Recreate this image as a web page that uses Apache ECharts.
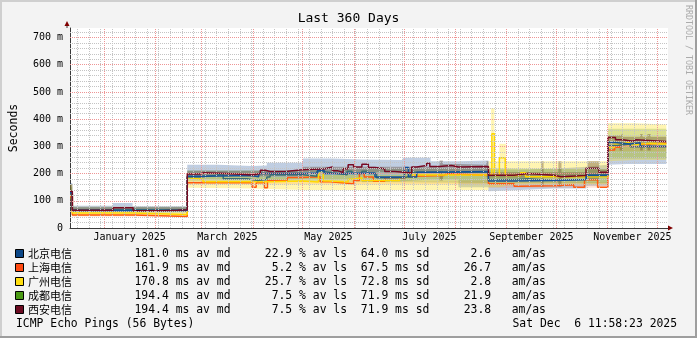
<!DOCTYPE html>
<html>
<head>
<meta charset="utf-8">
<script src="https://cdn.jsdelivr.net/npm/echarts@6/dist/echarts.min.js"></script>
<style>
  html, body { margin: 0; padding: 0; background: #f3f3f3; }
  #chart { width: 697px; height: 338px; }
</style>
</head>
<body>
<div id="chart"></div>
<script>
// Time range: 360 days ending Sat Dec 6 2025; x values below are days since range start
const rangeStart = Date.UTC(2024, 11, 11, 12, 0, 0);
const DAY = 864e5;

const hosts = ['北京电信', '上海电信', '广州电信', '成都电信', '西安电信'];
const swatchColors = ['#0b4787', '#ff4a12', '#ffde10', '#4a9a14', '#6b0a20'];
const lineColors = ['#14529a', '#ff5a10', '#ffd800', '#3c6f74', '#780a24'];
const bandColors = [
  'rgba(30,80,150,0.28)',
  'rgba(255,100,20,0.18)',
  'rgba(255,222,0,0.30)',
  'rgba(74,140,20,0.20)',
  'rgba(90,60,40,0.36)'
];

// Summary statistics shown in the legend
const avgMedian = ['181.0', '161.9', '170.8', '194.4', '194.4'];
const avgLoss = ['22.9', '5.2', '25.7', '7.5', '7.5'];
const avgSd = ['64.0', '67.5', '72.8', '71.9', '71.9'];
const amAs = ['2.6', '26.7', '2.8', '21.9', '23.8'];

// Median RTT (ms) as [day, value] change points
const beijingMedian = [[0,130],[1.4,64],[70.8,190],[80.3,193],[109,188],[113.9,200],[140.6,202],[149.5,212],[153.4,200],[164.3,202],[184.1,187],[201.9,222],[204.3,187],[209.3,205],[216.7,208],[252.6,173],[268.1,175],[291.8,178],[311.6,193],[324.7,315],[327.4,309],[338.2,313],[344.2,300],[360,300]];
const shanghaiMedian = [[0,115],[1.4,48],[38.1,42],[70.8,166],[109.9,150],[112.4,166],[117.4,148],[119.2,175],[131.2,186],[140.2,188],[151,170],[157.1,163],[171.2,175],[174.7,200],[177.6,187],[183.1,172],[190,185],[201.5,190],[206.8,193],[225.6,200],[227.6,193],[252.6,163],[268.1,153],[272,155],[292.2,159],[304.1,150],[310.6,177],[318.5,150],[324.7,287],[328.8,297],[331.8,307],[337.7,311],[360,311]];
const guangzhouMedian = [[0,120],[1.4,55],[38.1,50],[70.8,185],[72.4,178],[80.3,170],[120.8,173],[140.6,169],[150,200],[152.9,173],[155.9,169],[167.9,179],[170.7,185],[176.2,175],[198.9,187],[206.3,195],[254.7,346],[256.2,193],[259.2,258],[262.7,193],[272,203],[275,188],[324.7,297],[328.8,309],[331.8,315],[337.7,307],[341.2,311],[349.6,309],[360,309]];
const chengduMedian = [[0,125],[1.4,67],[70.8,187],[78.5,193],[87.7,200],[92.5,181],[107,175],[112.9,178],[118.8,187],[120.8,196],[140.6,190],[149,209],[152.4,202],[158.4,196],[167.3,209],[170.2,200],[176.2,209],[179.6,200],[185.1,185],[201.9,192],[205.8,205],[252.6,178],[268.1,181],[276.6,175],[292.2,178],[311.6,197],[324.7,303],[330.3,309],[338.2,299],[360,299]];
const xianMedian = [[0,135],[1.4,65],[26,74],[38.1,63],[56.1,65],[65.1,67],[70.8,198],[78.3,203],[80.8,200],[94.1,197],[106,195],[109.9,200],[114.9,212],[117.9,208],[120.8,209],[131.2,214],[140.6,218],[154,224],[158.4,210],[161.8,204],[164.9,218],[167.9,232],[171.2,224],[176.2,234],[180.1,222],[184.1,218],[190,208],[195.9,205],[201.5,202],[206.3,224],[209.3,230],[215.3,238],[217.2,226],[223.1,230],[230.3,224],[234.5,226],[252.6,194],[268.1,200],[276.6,194],[292.2,188],[296.4,193],[311.5,220],[319.3,205],[324.7,333],[329.3,324],[333.7,319],[339.7,324],[341.5,318],[360,318]];

// Spread of the pings (smoke) as [day, low ms, high ms]
const beijingBand = [[0,100,165],[1.4,58,82],[25.9,60,92],[37.8,57,80],[70.8,180,232],[89.2,178,228],[109.9,170,230],[118.8,175,240],[140.6,180,255],[158.4,178,252],[176.2,168,250],[200.9,172,258],[217.7,178,245],[234.5,150,248],[252.6,135,215],[272,140,218],[291.8,145,225],[311.6,155,232],[324.7,232,300],[336.3,235,305],[346.1,235,300],[360,235,300]];
const shanghaiBand = [[0,100,130],[1.4,42,52],[70.8,160,175],[252.6,148,168],[324.7,283,312],[360,298,316]];
const guangzhouBand = [[0,105,160],[1.4,44,60],[70.8,148,190],[109.9,145,185],[140.6,140,195],[200.9,140,205],[252.6,150,245],[254.2,150,440],[256.2,150,245],[259.2,150,310],[263.1,155,245],[272,160,245],[324.7,245,385],[341.2,250,380],[360,250,380]];
const chengduBand = [[0,110,150],[1.4,58,78],[70.8,172,212],[140.6,172,218],[200.9,168,220],[252.6,165,215],[324.7,255,365],[360,255,365]];
const xianBand = [[0,110,160],[1.4,60,76],[70.8,190,210],[140.6,205,225],[223.1,175,248],[225.1,210,235],[234.5,205,232],[251.3,190,245],[252.6,185,205],[284.4,152,245],[285.9,185,205],[294.8,152,245],[296.7,185,205],[312.5,175,245],[319.3,195,215],[324.7,310,340],[331.8,285,345],[333.7,310,335],[344.2,285,345],[345.7,310,335],[348.6,285,345],[350.5,310,335],[360,310,335]];

const medians = [beijingMedian, shanghaiMedian, guangzhouMedian, chengduMedian, xianMedian];
const bands = [beijingBand, shanghaiBand, guangzhouBand, chengduBand, xianBand];

const xTickLabels = ['January 2025', 'March 2025', 'May 2025', 'July 2025', 'September 2025', 'November 2025'];
const xTickMonths = [0, 2, 4, 6, 8, 10];

const t = d => rangeStart + d * DAY;
const Y_MAX = 735;

// Grid positions: monthly major lines, weekly (Monday) minor lines
const monthStarts = [];
for (let m = 0; m < 12; m++) monthStarts.push(Date.UTC(2025, m, 1));
const weekLines = [];
for (let ms = Date.UTC(2024, 11, 16); ms < t(361); ms += 7 * DAY) {
  if (new Date(ms).getUTCDate() !== 1) weekLines.push(ms);
}
const labelTimes = xTickMonths.map(m => (Date.UTC(2025, m, 1) + Date.UTC(2025, m + 1, 1)) / 2);

const yMinor = [];
for (let v = 20; v <= 720; v += 20) if (v % 100) yMinor.push(v);
const yMajor = [100, 200, 300, 400, 500, 600, 700];

const vLine = ms => [{ coord: [ms, 0] }, { coord: [ms, Y_MAX] }];

const series = [];
series.push({
  type: 'line', data: [[t(0), -50]], symbol: 'none', silent: true,
  lineStyle: { opacity: 0 }, z: 1,
  markLine: {
    silent: true, symbol: ['none', 'none'], animation: false,
    label: { show: false },
    lineStyle: { color: '#c4c4c4', type: [1, 1], width: 1 },
    data: [...yMinor.map(v => ({ yAxis: v })), ...weekLines.map(vLine)]
  }
});
series.push({
  type: 'line', data: [[t(0), -50]], symbol: 'none', silent: true,
  lineStyle: { opacity: 0 }, z: 1,
  markLine: {
    silent: true, symbol: ['none', 'none'], animation: false,
    label: { show: false },
    lineStyle: { color: '#ee9595', type: [1, 1], width: 1 },
    data: [...yMajor.map(v => ({ yAxis: v })), ...monthStarts.map(vLine)]
  }
});

// Smoke bands: invisible lower bound stacked with the band height
bands.forEach((band, i) => {
  const stack = 'band' + i;
  series.push({
    type: 'line', stack, step: 'end', symbol: 'none', silent: true, z: 2,
    lineStyle: { opacity: 0 },
    data: band.map(b => [t(b[0]), b[1]])
  });
  series.push({
    type: 'line', stack, step: 'end', symbol: 'none', silent: true, z: 2,
    lineStyle: { opacity: 0 },
    areaStyle: { color: bandColors[i], opacity: 1 },
    data: band.map(b => [t(b[0]), b[2] - b[1]])
  });
});

// Median lines, drawn with the darkest on top
[1, 2, 3, 0, 4].forEach(i => {
  series.push({
    type: 'line', name: hosts[i], step: 'end', symbol: 'none', silent: true, z: 3,
    lineStyle: { color: lineColors[i], width: 1.5 },
    data: medians[i].map(p => [t(p[0]), p[1]])
  });
});

// Legend block
const rowY = [254, 268, 282, 296, 310];
const mono = '"DejaVu Sans Mono", monospace';
const statFont = '11.4px ' + mono;
const graphics = [
  { type: 'rect', shape: { x: 0, y: 0, width: 697, height: 2 }, style: { fill: '#cfcfcf' }, z: 100 },
  { type: 'rect', shape: { x: 0, y: 0, width: 2, height: 338 }, style: { fill: '#cfcfcf' }, z: 100 },
  { type: 'rect', shape: { x: 0, y: 336, width: 697, height: 2 }, style: { fill: '#9e9e9e' }, z: 100 },
  { type: 'rect', shape: { x: 695, y: 0, width: 2, height: 338 }, style: { fill: '#9e9e9e' }, z: 100 },
  { type: 'text', x: 348.5, y: 19, style: { text: 'Last 360 Days', font: '13px ' + mono, fill: '#000', align: 'center', verticalAlign: 'middle' } },
  { type: 'text', x: 688, y: 5, rotation: -Math.PI / 2, style: { text: 'RRDTOOL / TOBI OETIKER', font: '8.3px ' + mono, fill: '#ababab', align: 'left', verticalAlign: 'middle' } },
  // axis extensions and arrow heads
  { type: 'line', shape: { x1: 67, y1: 28, x2: 67, y2: 23 }, style: { stroke: '#3a3a3a', lineWidth: 1 } },
  { type: 'polygon', shape: { points: [[64.5, 26], [69.5, 26], [67, 21]] }, style: { fill: '#7f0000' } },
  { type: 'line', shape: { x1: 668, y1: 228, x2: 670, y2: 228 }, style: { stroke: '#3a3a3a', lineWidth: 1 } },
  { type: 'polygon', shape: { points: [[668, 225.5], [668, 230.5], [673, 228]] }, style: { fill: '#7f0000' } },
  { type: 'text', x: 16, y: 324, style: { text: 'ICMP Echo Pings (56 Bytes)', font: statFont, fill: '#000', verticalAlign: 'middle' } },
  { type: 'text', x: 512.5, y: 324, style: { text: 'Sat Dec  6 11:58:23 2025', font: statFont, fill: '#000', verticalAlign: 'middle' } }
];
hosts.forEach((h, i) => {
  const y = rowY[i];
  graphics.push({ type: 'rect', shape: { x: 15.5, y: y - 4.5, width: 8, height: 8 }, style: { fill: swatchColors[i], stroke: '#000', lineWidth: 1 } });
  graphics.push({ type: 'text', x: 28, y, style: { text: h, font: '11px "Noto Sans CJK SC"', fill: '#000', verticalAlign: 'middle' } });
  const stats = avgMedian[i] + ' ms av md     ' + avgLoss[i].padStart(4) + ' % av ls  ' +
    avgSd[i] + ' ms sd' + amAs[i].padStart(9) + '   am/as';
  graphics.push({ type: 'text', x: 134.5, y, style: { text: stats, font: statFont, fill: '#000', verticalAlign: 'middle' } });
});

const chart = echarts.init(document.getElementById('chart'), null, { renderer: 'canvas' });
chart.setOption({
  animation: false,
  backgroundColor: '#f3f3f3',
  grid: { left: 67, right: 29, top: 28, bottom: 110, show: true, backgroundColor: '#ffffff', borderWidth: 0 },
  xAxis: [
    {
      // time axis carrying the data
      type: 'time', min: t(0), max: t(361),
      axisLine: { show: true, lineStyle: { color: '#3a3a3a', width: 1 } },
      axisTick: { show: false },
      splitLine: { show: false },
      axisLabel: { show: false }
    },
    {
      // label axis over the same span: month names centred in their month
      type: 'value', min: t(0), max: t(361), position: 'bottom',
      axisLine: { show: false },
      axisTick: { show: false },
      splitLine: { show: false },
      axisLabel: {
        customValues: labelTimes,
        formatter: v => {
          const k = labelTimes.findIndex(x => Math.abs(x - v) < DAY);
          return k >= 0 ? xTickLabels[k] : '';
        },
        fontFamily: mono, fontSize: 10, color: '#000', margin: 4
      }
    }
  ],
  yAxis: {
    type: 'value', min: 0, max: Y_MAX, interval: 100,
    axisLine: { show: true, lineStyle: { color: '#3a3a3a', width: 1 } },
    axisTick: { show: false },
    splitLine: { show: false },
    axisLabel: {
      formatter: v => (v % 100 === 0 ? (v === 0 ? '0' : v + ' m') : ''),
      fontFamily: mono, fontSize: 10, color: '#000', margin: 7
    },
    name: 'Seconds', nameLocation: 'middle', nameRotate: 90, nameGap: 50,
    nameTextStyle: { fontFamily: mono, fontSize: 11.5, color: '#000' }
  },
  series,
  graphic: graphics
});
</script>
</body>
</html>
